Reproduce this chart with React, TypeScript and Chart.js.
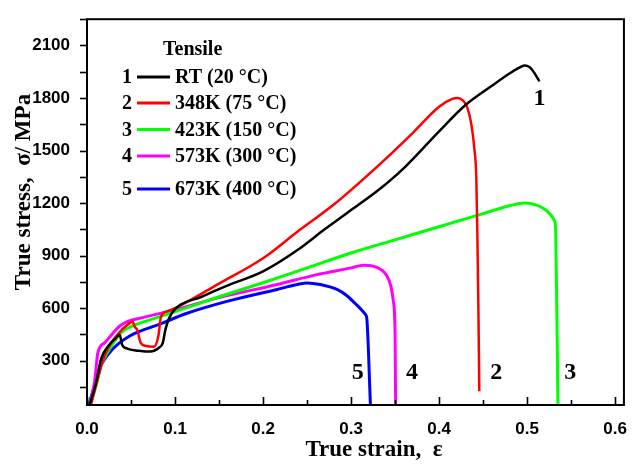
import React, { useEffect, useRef } from "react";
import { Chart, registerables } from "chart.js";

Chart.register(...registerables);

// ---- data ----
const strain1 = [0.003, 0.0106, 0.016, 0.0255, 0.032, 0.037, 0.040, 0.045, 0.059, 0.072, 0.082, 0.086, 0.089, 0.093, 0.1, 0.13, 0.16, 0.2, 0.24, 0.27, 0.30, 0.33, 0.36, 0.40, 0.43, 0.46, 0.48, 0.49, 0.497, 0.503, 0.508, 0.514];
const stress1 = [47, 181, 310, 393, 425, 448, 390, 370, 357, 352, 375, 400, 476, 540, 595, 665, 730, 810, 935, 1050, 1160, 1270, 1400, 1610, 1760, 1870, 1940, 1970, 1985, 1975, 1945, 1895];

const strain2 = [0.005, 0.0124, 0.020, 0.033, 0.048, 0.052, 0.054, 0.057, 0.061, 0.067, 0.076, 0.081, 0.084, 0.09, 0.1, 0.15, 0.2, 0.24, 0.28, 0.33, 0.37, 0.40, 0.415, 0.421, 0.427, 0.432, 0.4367, 0.4401, 0.4423, 0.4435, 0.4446, 0.4457];
const stress2 = [55, 200, 329, 440, 513, 522, 495, 476, 402, 384, 380, 440, 550, 580, 600, 740, 885, 1040, 1190, 1410, 1600, 1750, 1795, 1800, 1786, 1747, 1648, 1509, 1343, 1011, 624, 126];

const strain3 = [0.003, 0.0106, 0.016, 0.0236, 0.029, 0.0387, 0.05, 0.0667, 0.1, 0.15, 0.2, 0.25, 0.3, 0.35, 0.4, 0.45, 0.48, 0.497, 0.51, 0.52, 0.527, 0.531, 0.5325, 0.535];
const stress3 = [47, 163, 273, 350, 395, 460, 495, 525, 580, 665, 745, 830, 915, 990, 1065, 1140, 1185, 1200, 1190, 1165, 1132, 1100, 1040, 47];

const strain4 = [0.003, 0.0087, 0.0124, 0.02, 0.0387, 0.0667, 0.1, 0.15, 0.216, 0.26, 0.3, 0.314, 0.325, 0.334, 0.34, 0.345, 0.348, 0.35, 0.3506];
const stress4 = [47, 181, 347, 402, 504, 550, 590, 660, 735, 790, 830, 845, 840, 820, 790, 730, 642, 458, 50];

const strain5 = [0.002, 0.0067, 0.0143, 0.029, 0.048, 0.085, 0.112, 0.16, 0.216, 0.239, 0.25, 0.265, 0.284, 0.295, 0.305, 0.312, 0.3165, 0.3178, 0.322];
const stress5 = [47, 126, 255, 365, 440, 513, 568, 640, 707, 735, 744, 735, 707, 672, 625, 590, 563, 545, 47];

const seriesNumbers = ["1", "2", "3", "4", "5"];
const seriesNames = ["RT (20 °C)", "348K (75 °C)", "423K (150 °C)", "573K (300 °C)", "673K (400 °C)"];
const legendTitle = "Tensile";
const xTicks = [0, 0.1, 0.2, 0.3, 0.4, 0.5, 0.6];
const yTicks = [300, 600, 900, 1200, 1500, 1800, 2100];
const xTitle = "True strain,  ε";
const yTitle = "True stress,  σ/ MPa";
// curve number annotations (data coordinates)
const curveLabelX = [0.514, 0.4648, 0.549, 0.3693, 0.3075];
const curveLabelY = [1758, 198, 198, 198, 198];

const colors = ["#000000", "#ff0000", "#00ff00", "#ff00ff", "#0000ff"];
const widths = [2.5, 2.5, 3, 3, 3];

const strains = [strain1, strain2, strain3, strain4, strain5];
const stresses = [stress1, stress2, stress3, stress4, stress5];

const SERIF = "'Liberation Serif', 'Times New Roman', serif";
const SANS = "'Liberation Sans', Arial, sans-serif";

const decorPlugin = {
  id: "decor",
  afterDraw(chart: any) {
    const ctx = chart.ctx;
    const { left, right, top, bottom } = chart.chartArea;
    const xs = chart.scales.x;
    const ys = chart.scales.y;
    ctx.save();
    ctx.strokeStyle = "#000";
    ctx.lineWidth = 2;
    ctx.strokeRect(left, top, right - left, bottom - top);
    // y ticks, outward
    ctx.lineWidth = 1.6;
    for (let v = 150; v <= 2250; v += 150) {
      if (v < ys.min || v > ys.max) continue;
      const y = Math.round(ys.getPixelForValue(v)) + 0.5;
      ctx.beginPath();
      ctx.moveTo(left - 7, y);
      ctx.lineTo(left, y);
      ctx.stroke();
    }
    // x ticks, inward
    for (let i = 0; i <= 12; i++) {
      const v = i * 0.05;
      const x = Math.round(xs.getPixelForValue(v)) + 0.5;
      const len = i % 2 === 0 ? 8 : 5;
      ctx.beginPath();
      ctx.moveTo(x, bottom);
      ctx.lineTo(x, bottom - len);
      ctx.stroke();
    }
    // curve number labels
    ctx.fillStyle = "#000";
    ctx.font = `bold 24px ${SERIF}`;
    ctx.textAlign = "center";
    ctx.textBaseline = "alphabetic";
    for (let i = 0; i < curveLabelX.length; i++) {
      ctx.fillText(seriesNumbers[i], xs.getPixelForValue(curveLabelX[i]), ys.getPixelForValue(curveLabelY[i]));
    }
    // legend
    ctx.font = `bold 20px ${SERIF}`;
    ctx.textAlign = "left";
    ctx.fillText(legendTitle, 163, 55);
    const baselines = [83, 109, 135.5, 162, 195];
    for (let i = 0; i < seriesNames.length; i++) {
      const b = baselines[i];
      ctx.fillStyle = "#000";
      ctx.fillText(seriesNumbers[i], 122, b);
      ctx.strokeStyle = colors[i];
      ctx.lineWidth = 3;
      ctx.beginPath();
      ctx.moveTo(137, b - 6);
      ctx.lineTo(170, b - 6);
      ctx.stroke();
      ctx.fillText(seriesNames[i], 175, b);
    }
    // axis titles
    ctx.font = `bold 23px ${SERIF}`;
    ctx.textAlign = "center";
    ctx.textBaseline = "middle";
    ctx.fillText(xTitle, 374, 450);
    ctx.save();
    ctx.translate(24, 192);
    ctx.rotate(-Math.PI / 2);
    ctx.fillText(yTitle, 0, 0);
    ctx.restore();
    ctx.restore();
  },
};

export default function App() {
  const ref = useRef<HTMLCanvasElement | null>(null);
  useEffect(() => {
    if (!ref.current) return;
    const chart = new Chart(ref.current, {
      type: "line",
      data: {
        datasets: strains.map((xsArr, i) => ({
          label: seriesNames[i],
          data: xsArr.map((x, j) => ({ x, y: stresses[i][j] })),
          borderColor: colors[i],
          backgroundColor: colors[i],
          borderWidth: widths[i],
          pointRadius: 0,
          fill: false,
          cubicInterpolationMode: "monotone" as const,
        })),
      },
      options: {
        responsive: false,
        animation: false,
        devicePixelRatio: 1,
        layout: { padding: { left: 0, right: 3, top: 6, bottom: 0 } },
        plugins: { legend: { display: false }, tooltip: { enabled: false } },
        scales: {
          x: {
            type: "linear",
            min: 0,
            max: 0.61,
            grid: { display: false },
            border: { display: false },
            afterBuildTicks: (s: any) => {
              s.ticks = xTicks.map((v) => ({ value: v }));
            },
            afterFit: (s: any) => {
              s.height = 61;
            },
            ticks: {
              color: "#000",
              padding: 6,
              maxRotation: 0,
              font: { family: SANS, size: 17, weight: "bold" },
              callback: (v: any) => Number(v).toFixed(1),
            },
          },
          y: {
            type: "linear",
            min: 47,
            max: 2250,
            grid: { display: false },
            border: { display: false },
            afterBuildTicks: (s: any) => {
              s.ticks = yTicks.map((v) => ({ value: v }));
            },
            afterFit: (s: any) => {
              s.width = 87;
            },
            ticks: {
              color: "#000",
              padding: 9,
              font: { family: SANS, size: 17, weight: "bold" },
              callback: (v: any) => String(v),
            },
          },
        },
      },
      plugins: [decorPlugin],
    });
    return () => chart.destroy();
  }, []);
  return (
    <div style={{ position: "absolute", left: 0, top: 0, width: 633, height: 466, background: "#fff" }}>
      <canvas ref={ref} width={633} height={466} style={{ display: "block" }} />
    </div>
  );
}
